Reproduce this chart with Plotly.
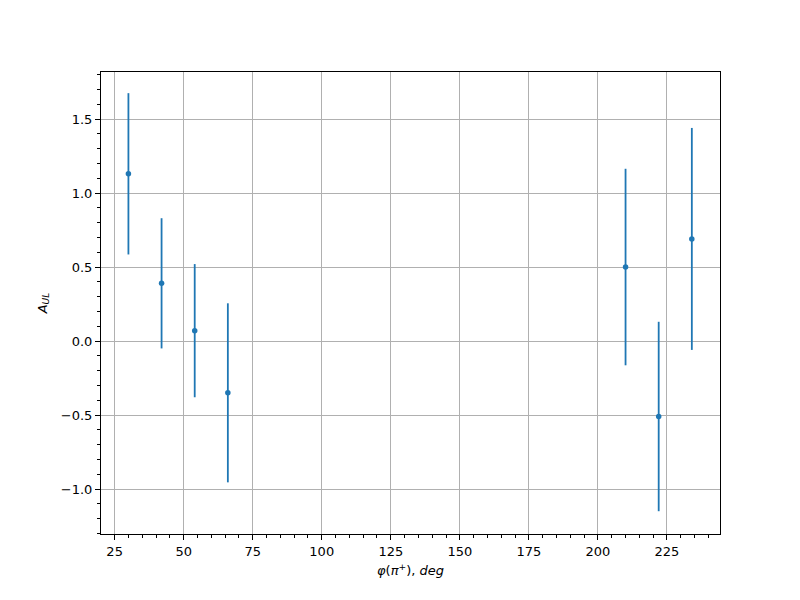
import plotly.graph_objects as go

phi = [30, 42, 54, 66, 210, 222, 234]
a_ul = [1.13, 0.39, 0.07, -0.35, 0.50, -0.51, 0.69]
a_err = [0.545, 0.44, 0.45, 0.605, 0.664, 0.64, 0.75]

fig = go.Figure(go.Scatter(
    x=phi, y=a_ul, mode="markers",
    marker=dict(color="#1f77b4", size=5.5),
    error_y=dict(type="data", array=a_err, visible=True, color="#1f77b4", thickness=1.8, width=0),
))

font = dict(family="DejaVu Sans", size=13, color="black")
fig.update_layout(
    width=792, height=592,
    margin=dict(l=92.7, r=79.7, t=64.3, b=65.7),
    plot_bgcolor="white", paper_bgcolor="white",
    font=font, showlegend=False,
)
fig.update_xaxes(
    range=[20.07, 244.2], tickvals=[25, 50, 75, 100, 125, 150, 175, 200, 225],
    showgrid=True, gridcolor="#b0b0b0", gridwidth=1, zeroline=False,
    showline=True, linecolor="black", linewidth=1, mirror=True,
    ticks="outside", ticklen=5, tickcolor="black",
    minor=dict(ticks="outside", dtick=5, tick0=0, ticklen=3, tickcolor="black", showgrid=False),
    title=dict(text="<i>φ</i>(<i>π</i><sup>+</sup>), <i>deg</i>", standoff=8, font=font),
)
fig.update_yaxes(
    range=[-1.304, 1.818], tickvals=[-1.0, -0.5, 0.0, 0.5, 1.0, 1.5], tickformat=".1f",
    showgrid=True, gridcolor="#b0b0b0", gridwidth=1, zeroline=False,
    showline=True, linecolor="black", linewidth=1, mirror=True,
    ticks="outside", ticklen=5, tickcolor="black",
    minor=dict(ticks="outside", dtick=0.1, tick0=0, ticklen=3, tickcolor="black", showgrid=False),
    title=dict(text="<i>A</i><sub><i>UL</i></sub>", standoff=10, font=font),
)
fig.write_html("out.html")
